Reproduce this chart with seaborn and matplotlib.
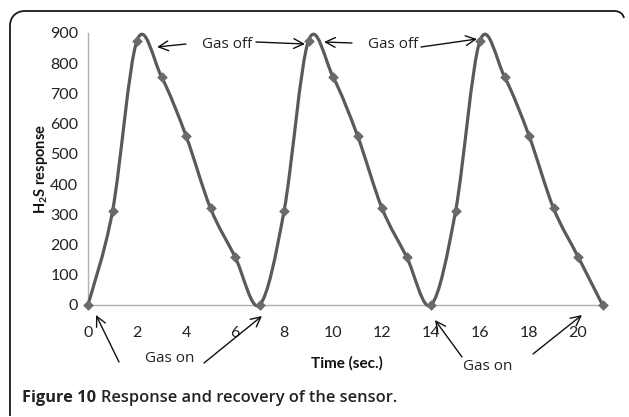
import matplotlib
matplotlib.use("Agg")
import matplotlib.pyplot as plt
import seaborn as sns
import numpy as np
import pandas as pd
from matplotlib.path import Path
from matplotlib.patches import PathPatch

# ---- data ----
time_s = [0, 1, 2, 3, 4, 5, 6, 7, 8, 9, 10, 11, 12, 13, 14, 15, 16, 17, 18, 19, 20, 21]
response = [0, 310, 875, 755, 560, 320, 160, 0, 310, 875, 755, 560, 320, 160,
            0, 310, 875, 755, 560, 320, 160, 0]
x_ticks = [0, 2, 4, 6, 8, 10, 12, 14, 16, 18, 20]
y_ticks = [0, 100, 200, 300, 400, 500, 600, 700, 800, 900]

sns.set_theme(style="white")
plt.rcParams['font.family'] = ['Lato', 'DejaVu Sans']
plt.rcParams['mathtext.fontset'] = 'custom'
plt.rcParams['mathtext.rm'] = 'Lato'
plt.rcParams['mathtext.bf'] = 'Lato:bold'

W, H = 629, 417
fig = plt.figure(figsize=(W / 100, H / 100), dpi=100)
fig.patch.set_facecolor('white')

def fp(px, py):
    return (px / W, 1 - py / H)

ax = fig.add_axes([88 / W, 1 - 305 / H, (605 - 88) / W, (305 - 33) / H])
ax.set_facecolor('white')

df = pd.DataFrame({"t": time_s, "r": response})

# smoothed line (Excel-style) built from the data via Bezier segments
xs = np.array(time_s, float)
ys = np.array(response, float)
n = len(xs)
verts = [(xs[0], ys[0])]
codes = [Path.MOVETO]
for i in range(n - 1):
    xm, ym = (xs[i - 1], ys[i - 1]) if i > 0 else (xs[i], ys[i])
    xp2, yp2 = (xs[i + 2], ys[i + 2]) if i + 2 < n else (xs[i + 1], ys[i + 1])
    c1 = (xs[i] + (xs[i + 1] - xm) / 6, ys[i] + (ys[i + 1] - ym) / 6)
    c2 = (xs[i + 1] - (xp2 - xs[i]) / 6, ys[i + 1] - (yp2 - ys[i]) / 6)
    verts += [c1, c2, (xs[i + 1], ys[i + 1])]
    codes += [Path.CURVE4] * 3
ax.add_patch(PathPatch(Path(verts, codes), fill=False, edgecolor='#5a5a5a',
                       lw=2.3, capstyle='round', joinstyle='round', clip_on=False, zorder=3))

sns.scatterplot(data=df, x="t", y="r", marker='D', s=24, color='#6a6a6a',
                edgecolor='#6a6a6a', linewidth=0.5, ax=ax, zorder=4, clip_on=False)

ax.set_xlim(0, 21.1)
ax.set_ylim(0, 900)
ax.set_xticks(x_ticks)
ax.set_yticks(y_ticks)
ax.set_xticklabels([str(v) for v in x_ticks])
ax.set_yticklabels([str(v) for v in y_ticks])

for s in ['top', 'right']:
    ax.spines[s].set_visible(False)
for s in ['left', 'bottom']:
    ax.spines[s].set_color('#b0b0b0')
    ax.spines[s].set_linewidth(1.0)

ax.tick_params(axis='both', which='major', direction='out', length=5, width=1,
               color='#b0b0b0', labelcolor='#222222', labelsize=11.5)
ax.tick_params(axis='x', pad=10)
ax.tick_params(axis='y', pad=2)

ax.set_xlabel("Time (sec.)", fontsize=11, fontweight='bold', color='#111111')
ax.set_ylabel(r"H$_\mathbf{2}$S response", fontsize=10.5, fontweight='bold', color='#111111')
ax.xaxis.set_label_coords(0.5, -(363 - 305) / (305 - 33))
ax.yaxis.set_label_coords(-(88 - 41) / (605 - 88), 0.5)
ax.xaxis.label.set_va('center')
ax.yaxis.label.set_va('center')

# ---- annotations ----
ann_font = dict(fontsize=11, color='#222222', family=['Open Sans', 'DejaVu Sans'])
fig.text(*fp(227, 44), "Gas off", ha='center', va='center', **ann_font)
fig.text(*fp(393, 44), "Gas off", ha='center', va='center', **ann_font)
fig.text(*fp(170, 358), "Gas on", ha='center', va='center', **ann_font)
fig.text(*fp(488, 367), "Gas on", ha='center', va='center', **ann_font)

arrows = [((186, 44), (157, 47)), ((256, 42), (305, 44)),
          ((352, 43), (324, 42)), ((421, 47), (477, 39)),
          ((119, 362), (96, 315)), ((204, 363), (262, 316)),
          ((462, 357), (435, 320)), ((533, 354), (582, 315))]
for (sx, sy), (ex, ey) in arrows:
    fig.add_artist(matplotlib.patches.FancyArrowPatch(
        fp(sx, sy), fp(ex, ey), transform=fig.transFigure,
        arrowstyle='->,head_length=7,head_width=3.5', color='#111111', lw=1.0,
        shrinkA=0, shrinkB=0, mutation_scale=1))

# ---- caption ----
cap_y = fp(0, 398)[1]
t1 = fig.text(22 / W, cap_y, "Figure 10", fontsize=11.8, fontweight='bold',
              family=['Open Sans', 'DejaVu Sans'], color='#222222', va='center', ha='left')
fig.canvas.draw()
bb = t1.get_window_extent()
fig.text((bb.x1 + 5) / W, cap_y, "Response and recovery of the sensor.", fontsize=11.8,
         fontweight='semibold', family=['Open Sans', 'DejaVu Sans'], color='#222222',
         va='center', ha='left')

# ---- frame (top + left with rounded corner) ----
bx = [(10, 416), (10, 26), (10, 17), (16, 11), (25, 11), (614, 11), (620, 11), (623, 14), (624, 18)]
bcodes = [Path.MOVETO, Path.LINETO, Path.CURVE4, Path.CURVE4, Path.CURVE4,
          Path.LINETO, Path.CURVE4, Path.CURVE4, Path.CURVE4]
fig.add_artist(PathPatch(Path([fp(*p) for p in bx], bcodes), transform=fig.transFigure,
                         fill=False, edgecolor='#1a1a1a', lw=1.3))

fig.savefig("out.png", dpi=100, facecolor='white')
